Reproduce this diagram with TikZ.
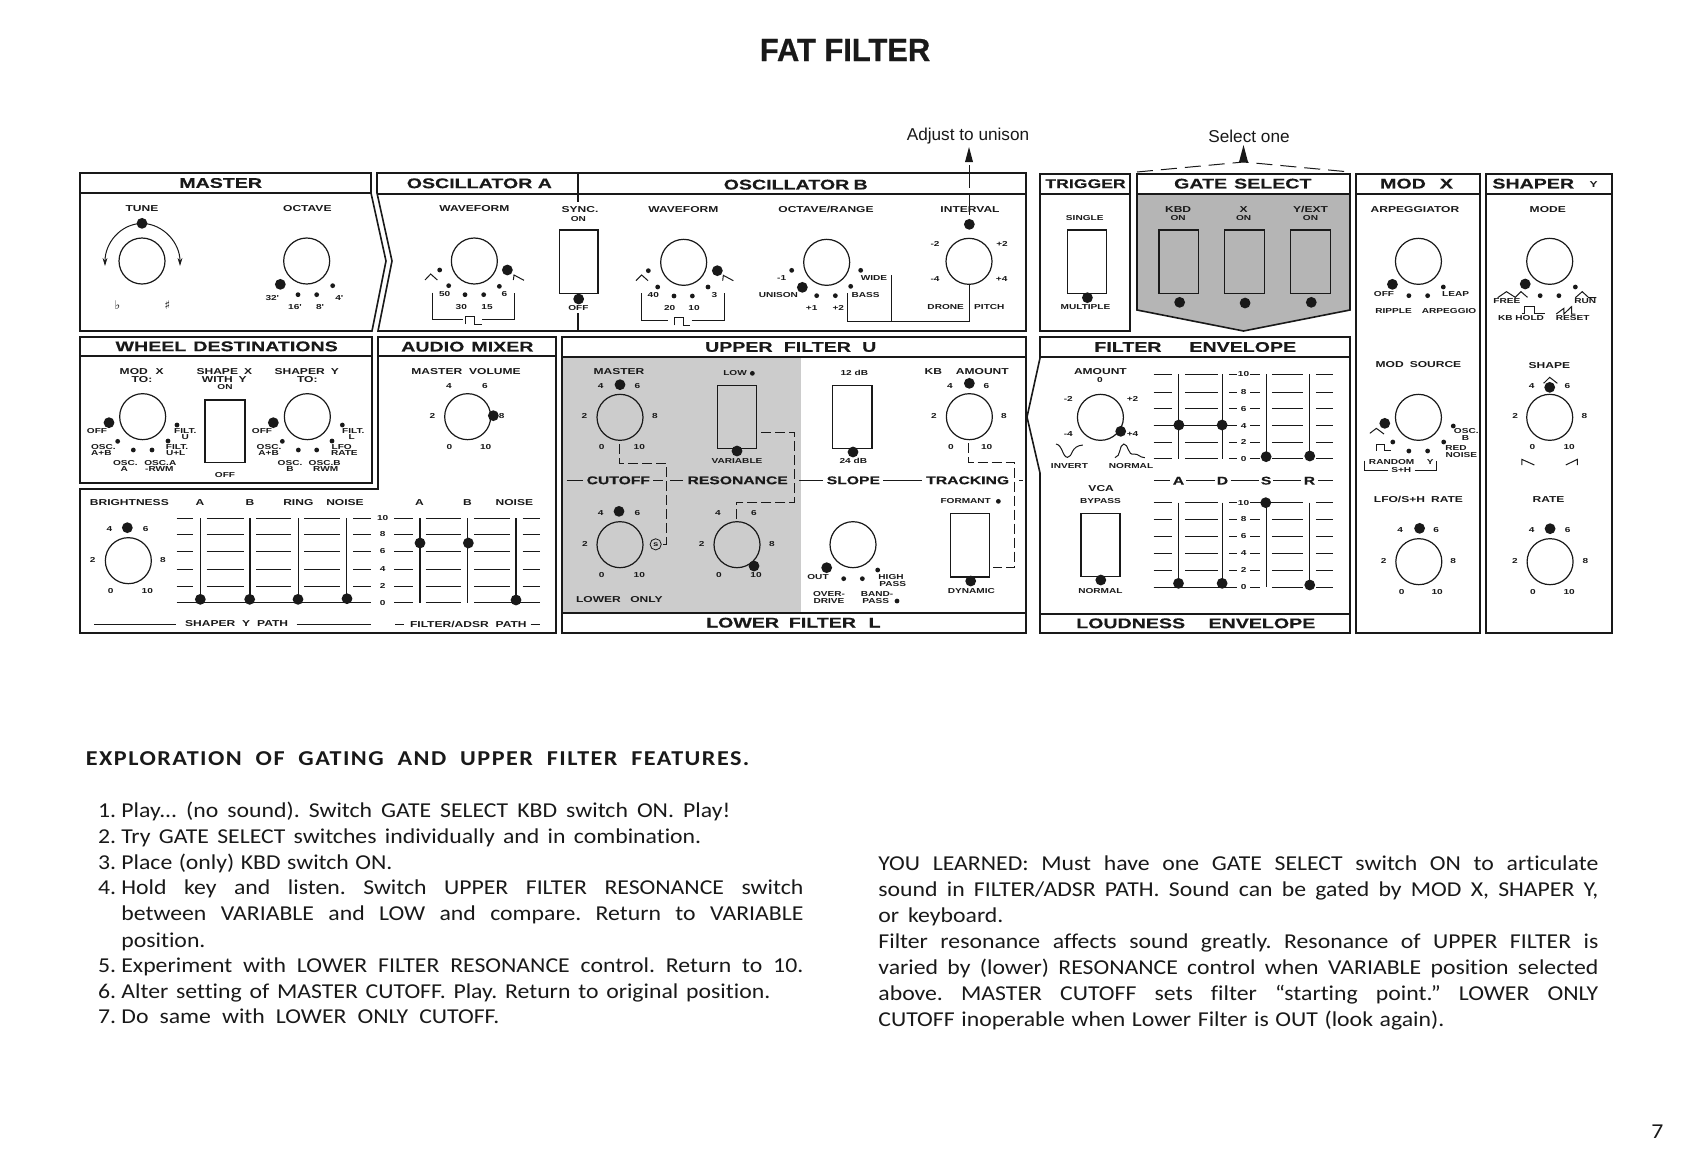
\documentclass[tikz,border=0pt]{standalone}
\usepackage{fontspec}
\usetikzlibrary{arrows.meta}
\setmainfont{Liberation Sans}
\newfontfamily\ext[FakeStretch=1.4,UprightFont=* Bold]{Liberation Sans}
\newfontfamily\exth[FakeStretch=1.4,FakeBold=0.3,UprightFont=* Bold]{Liberation Sans}
\newfontfamily\bodyf[FakeStretch=1.12,Ligatures=NoCommon]{Carlito}
\newfontfamily\bodyb[FakeStretch=1.14,LetterSpace=7,UprightFont=* Bold]{Carlito}
\newfontfamily\titlef[FakeBold=0.7,UprightFont=* Bold]{Liberation Sans}
\newfontfamily\symf{DejaVu Sans}
\definecolor{ink}{gray}{0.1}
\definecolor{shadeA}{gray}{0.80}
\definecolor{shadeB}{gray}{0.71}
\newcounter{nn}
\newlength\mylen
\frenchspacing
\tikzset{
  panel/.style={draw=ink,line width=0.8pt},
  rule/.style={draw=ink,line width=0.7pt},
  thinl/.style={draw=ink,line width=0.5pt},
  dashl/.style={draw=ink,line width=0.5pt,dash pattern=on 5pt off 2pt},
  knob/.style={circle,draw=ink,line width=0.6pt,minimum size=23pt,inner sep=0pt,outer sep=0pt},
  bigdot/.style={circle,fill=ink,minimum size=5.4pt,inner sep=0pt,outer sep=0pt},
  smalldot/.style={circle,fill=ink,minimum size=2.4pt,inner sep=0pt,outer sep=0pt},
  hdrt/.style={inner sep=0pt,text=ink,font=\exth\fontsize{7pt}{8pt}\selectfont},
  midt/.style={inner sep=0pt,text=ink,font=\exth\fontsize{5.6pt}{6pt}\selectfont},
  labt/.style={inner sep=0pt,text=ink,font=\ext\fontsize{4.3pt}{5pt}\selectfont},
  tint/.style={inner sep=0pt,text=ink,font=\ext\fontsize{3.6pt}{4pt}\selectfont},
  bodyt/.style={inner sep=0pt,anchor=base west,text=ink,font=\bodyf\fontsize{10.6pt}{12pt}\selectfont},
  zw/.style={x=0.166667pt,y=-0.166667pt},
  zn/.style={x=0.191350pt,y=-0.166667pt},
}
\newcommand\hd[3]{\stepcounter{nn}\node[hdrt] (n\arabic{nn}) at (#1,#2) {#3};}
\newcommand\md[3]{\stepcounter{nn}\node[midt] (n\arabic{nn}) at (#1,#2) {#3};}
\newcommand\lb[3]{\stepcounter{nn}\node[labt] (n\arabic{nn}) at (#1,#2) {#3};}
\newcommand\tn[3]{\stepcounter{nn}\node[tint] (n\arabic{nn}) at (#1,#2) {#3};}
\newcommand\kn[2]{\stepcounter{nn}\node[knob] (n\arabic{nn}) at (#1,#2) {};}
\newcommand\bd[2]{\stepcounter{nn}\node[bigdot] (n\arabic{nn}) at (#1,#2) {};}
\newcommand\sd[2]{\stepcounter{nn}\node[smalldot] (n\arabic{nn}) at (#1,#2) {};}
\newcommand\sw[4]{\draw[rule] (#1,#2) rectangle (#3,#4);}
\newcommand\bl[4]{\pgfmathsetlength\mylen{(#3-#1)*0.5}\stepcounter{nn}\node[bodyt] (n\arabic{nn}) at (#1,#2) {\hbox to \mylen{\spaceskip=.14em plus 1fil\relax #4}};}
\begin{document}
\begin{tikzpicture}[x=0.5pt,y=-0.5pt]
\useasboundingbox (0,0) rectangle (1684,1167);
\fill[white] (0,0) rectangle (1684,1167);
% title and notes
\node[inner sep=0pt,text=ink,font=\titlef\fontsize{16pt}{18pt}\selectfont,xscale=.965] (title) at (845,50) {FAT FILTER};
\node[inner sep=0pt,text=ink,font=\fontsize{8.6pt}{10pt}\selectfont] (adj) at (968,136) {Adjust to unison};
\node[inner sep=0pt,text=ink,font=\fontsize{8.6pt}{10pt}\selectfont] (sel) at (1249,136) {Select one};
% shaded regions
\fill[shadeA] (562,357) rectangle (801,613);
\fill[shadeB] (1137,174) -- (1350,174) -- (1350,310) -- (1243.5,331) -- (1137,310) -- cycle;
\fill[white] (1137,174) rectangle (1350,194);
% panels
\draw[panel] (80,173) -- (371,173) -- (371,193) -- (386,261) -- (372,331) -- (80,331) -- cycle;
\draw[rule] (80,193) -- (371,193);
\draw[panel] (377,173) -- (1026,173) -- (1026,331) -- (378,331) -- (392,261) -- (377,193) -- cycle;
\draw[rule] (377,194) -- (1026,194);
\draw[rule] (578,174) -- (578,202) (578,313) -- (578,331);
\draw[panel] (80,337) rectangle (372,483);
\draw[rule] (80,356) -- (372,356);
\draw[panel] (378,337) -- (556,337) -- (556,633) -- (80,633) -- (80,489) -- (378,489) -- cycle;
\draw[rule] (378,356) -- (556,356);
\draw[panel] (562,337) rectangle (1026,633);
\draw[rule] (562,357) -- (1026,357) (562,613) -- (1026,613);
\draw[panel] (1040,174) rectangle (1130,331);
\draw[rule] (1040,194) -- (1130,194);
\draw[panel] (1137,174) -- (1350,174) -- (1350,310) -- (1243.5,331) -- (1137,310) -- cycle;
\draw[rule] (1137,194) -- (1350,194);
\draw[panel] (1040,337) -- (1350,337) -- (1350,633) -- (1040,633) -- (1040,473) -- (1027,417) -- (1040,358) -- cycle;
\draw[rule] (1040,357) -- (1350,357) (1040,614) -- (1350,614);
\draw[panel] (1356,174) rectangle (1480,633);
\draw[rule] (1356,194) -- (1480,194);
\draw[panel] (1486,174) rectangle (1612,633);
\draw[rule] (1486,194) -- (1612,194);
% select-one bracket and arrows
\draw[thinl,dash pattern=on 8pt off 4pt] (1137,172) -- (1243.5,162) -- (1350,172);
\fill[ink] (1243.5,145) -- (1248,162) -- (1239,162) -- cycle;
\fill[ink] (969,147) -- (973,162) -- (965,162) -- cycle;
\draw[thinl] (969,165) -- (969,188) (969,193) -- (969,215);

%%%% Z1
\begin{scope}[shift={(70,120)},zw]
\hd{452}{189}{MASTER}
\hd{1228}{190}{OSCILLATOR A}
\lb{216}{265}{TUNE}
\lb{712}{266}{OCTAVE}
\lb{1213}{266}{WAVEFORM}
\kn{216}{423}\kn{710}{423}\kn{1213}{423}
\bd{216}{310}
\draw[thinl,-{Stealth[length=4pt,width=2.4pt]}] (216,310) .. controls (150,312) and (105,370) .. (105,438);
\draw[thinl,-{Stealth[length=4pt,width=2.4pt]}] (216,310) .. controls (282,312) and (330,370) .. (330,438);
\stepcounter{nn}\node[inner sep=0pt,text=ink,font=\symf\fontsize{6pt}{7pt}\selectfont] (n\arabic{nn}) at (142,555) {♭};
\stepcounter{nn}\node[inner sep=0pt,text=ink,font=\symf\fontsize{6pt}{7pt}\selectfont] (n\arabic{nn}) at (292,555) {♯};
\bd{631}{493}\sd{684}{524}\sd{740}{524}\sd{788}{497}
\tn{607}{533}{32'}\tn{675}{560}{16'}\tn{750}{560}{8'}\tn{808}{533}{4'}
\bd{1312}{450}\sd{1109}{450}\sd{1136}{497}\sd{1185}{524}\sd{1241}{524}\sd{1288}{499}
\draw[thinl] (1065,480) -- (1082,462) -- (1102,480);
\draw[thinl] (1330,480) -- (1332,465) -- (1362,481);
\tn{1124}{523}{50}\tn{1174}{561}{30}\tn{1251}{561}{15}\tn{1303}{523}{6}
\draw[thinl] (1088,518) -- (1088,598) -- (1180,598) (1236,598) -- (1333,598) -- (1333,518);
\draw[thinl] (1186,612) -- (1186,590) -- (1212,590) -- (1212,612) -- (1235,612);
\end{scope}

%%%% Z2
\begin{scope}[shift={(540,120)},zw]
\hd{767}{194}{OSCILLATOR\hspace{.3em}B}
\lb{120}{268}{SYNC.}\tn{115}{296}{ON}\tn{115}{563}{OFF}
\lb{430}{268}{WAVEFORM}\lb{858}{268}{OCTAVE/RANGE}\lb{1290}{268}{INTERVAL}
\sw{58}{330}{174}{520}
\bd{116}{537}
\kn{431}{427}\kn{860}{427}\kn{1287}{424}
\bd{532}{452}\sd{325}{452}\sd{353}{501}\sd{402}{528}\sd{457}{528}\sd{504}{501}
\draw[thinl] (288,482) -- (305,465) -- (324,482);
\draw[thinl] (548,482) -- (550,466) -- (580,482);
\tn{340}{525}{40}\tn{389}{563}{20}\tn{462}{563}{10}\tn{523}{525}{3}
\draw[thinl] (303,520) -- (303,601) -- (385,601) (455,601) -- (553,601) -- (553,520);
\draw[thinl] (403,616) -- (403,592) -- (430,592) -- (430,616) -- (450,616);
\bd{787}{502}\sd{755}{451}\sd{830}{527}\sd{886}{527}\sd{932}{499}\sd{962}{451}
\tn{725}{475}{-1}\tn{715}{525}{UNISON}\tn{815}{564}{+1}\tn{895}{564}{+2}\tn{1002}{474}{WIDE}\tn{977}{524}{BASS}
\bd{1288}{313}
\tn{1185}{372}{-2}\tn{1386}{372}{+2}\tn{1185}{477}{-4}\tn{1385}{477}{+4}\tn{1217}{562}{DRONE}\tn{1348}{562}{PITCH}
\draw[thinl] (1287,495) -- (1287,603) -- (922,603) -- (922,520) (1054,465) -- (1054,603);
\end{scope}

%%%% Z3
\begin{scope}[shift={(1030,120)},zn]
\stepcounter{nn}\node[hdrt,font=\exth\fontsize{6.3pt}{7pt}\selectfont] (n\arabic{nn}) at (145,191) {TRIGGER};
\hd{556}{191}{GATE\hspace{.5em}SELECT}
\lb{387}{268}{KBD}\tn{387}{294}{ON}\lb{558}{268}{X}\tn{558}{294}{ON}\lb{733}{268}{Y/EXT}\tn{733}{294}{ON}
\tn{143}{295}{SINGLE}\tn{145}{562}{MULTIPLE}
\sw{98}{330}{200}{520}\bd{150}{533}
\sw{337}{330}{440}{520}\sw{508}{330}{612}{520}\sw{680}{330}{785}{520}
\bd{391}{547}\bd{562}{549}\bd{735}{547}
\hd{1010}{191}{MOD\hspace{1em}X}
\lb{1006}{268}{ARPEGGIATOR}
\kn{1015}{424}\kn{1358}{424}
\bd{947}{493}\sd{990}{527}\sd{1039}{527}\sd{1080}{501}
\tn{925}{523}{OFF}\tn{1112}{523}{LEAP}\tn{950}{573}{RIPPLE}\tn{1095}{573}{ARPEGGIO}
\hd{1315}{191}{SHAPER}\lb{1473}{193}{Y}
\lb{1353}{268}{MODE}
\bd{1294}{492}\sd{1333}{527}\sd{1382}{527}\sd{1425}{501}
\tn{1246}{543}{FREE}\tn{1451}{543}{RUN}\tn{1283}{595}{KB HOLD}\tn{1418}{595}{RESET}
\draw[thinl] (1222,533) -- (1245,515) -- (1268,532) -- (1283,515) -- (1300,532);
\draw[thinl] (1425,533) -- (1443,515) -- (1460,533) -- (1480,533);
\draw[thinl] (1285,581) -- (1292,581) -- (1292,560) -- (1318,560) -- (1318,581) -- (1345,581);
\draw[thinl] (1375,582) -- (1395,565) -- (1395,582) -- (1415,560) -- (1415,582) -- (1425,582);
\end{scope}

%%%% Z4
\begin{scope}[shift={(70,330)},zw]
\hd{470}{49}{WHEEL\hspace{.5em}DESTINATIONS}\hd{1192}{50}{AUDIO\hspace{.5em}MIXER}
\lb{215}{124}{MOD\hspace{.9em}X}\lb{216}{150}{TO:}
\lb{463}{124}{SHAPE\hspace{.7em}X}\lb{463}{150}{WITH\hspace{.7em}Y}\tn{465}{172}{ON}\tn{465}{436}{OFF}
\lb{710}{124}{SHAPER\hspace{.7em}Y}\lb{712}{150}{TO:}
\kn{218}{260}\bd{117}{278}\sd{143}{334}\sd{190}{360}\sd{246}{360}\sd{294}{333}\sd{321}{285}
\tn{81}{304}{OFF}\tn{346}{304}{FILT.}\tn{346}{322}{U}\tn{100}{352}{OSC.}\tn{94}{370}{A+B}\tn{321}{352}{FILT.}\tn{317}{370}{U+L}
\tn{166}{399}{OSC.}\tn{163}{417}{A}\tn{271}{399}{OSC.A}\tn{268}{417}{-RWM}
\kn{712}{260}\bd{610}{278}\sd{637}{334}\sd{685}{360}\sd{740}{360}\sd{786}{333}\sd{817}{285}
\tn{576}{304}{OFF}\tn{850}{304}{FILT.}\tn{845}{322}{L}\tn{597}{352}{OSC.}\tn{596}{370}{A+B}\tn{815}{352}{LFO}\tn{823}{370}{RATE}
\tn{660}{399}{OSC.}\tn{660}{417}{B}\tn{764}{399}{OSC.B}\tn{767}{417}{RWM}
\sw{405}{210}{525}{397}
\lb{1188}{124}{MASTER\hspace{.8em}VOLUME}
\kn{1193}{260}\bd{1270}{257}
\tn{1137}{167}{4}\tn{1245}{167}{6}\tn{1087}{257}{2}\tn{1295}{257}{8}\tn{1138}{350}{0}\tn{1247}{350}{10}
\lb{178}{518}{BRIGHTNESS}\lb{390}{518}{A}\lb{540}{518}{B}\lb{685}{518}{RING}\lb{825}{518}{NOISE}\lb{1048}{518}{A}\lb{1192}{518}{B}\lb{1333}{518}{NOISE}
\kn{175}{692}\bd{172}{593}
\tn{118}{598}{4}\tn{227}{598}{6}\tn{68}{689}{2}\tn{279}{689}{8}\tn{122}{783}{0}\tn{232}{783}{10}
\tn{938}{565}{10}\tn{938}{613}{8}\tn{938}{664}{6}\tn{938}{718}{4}\tn{938}{768}{2}\tn{938}{818}{0}
\foreach \yy in {565,613,664,718,768}{\foreach \xa/\xb in {320/370,410/522,558/662,702/810,850/903,972/1030,1067/1172,1213/1320,1358/1410}{\draw[thinl] (\xa,\yy) -- (\xb,\yy);}}
\draw[thinl] (320,818) -- (903,818) (972,818) -- (1030,818) (1067,818) -- (1172,818) (1213,818) -- (1410,818);
\foreach \xx in {392,540,685,830,1050,1193,1338}{\draw[rule,line width=.6pt] (\xx,565) -- (\xx,818);}
\bd{391}{808}\bd{539}{808}\bd{684}{808}\bd{831}{806}\bd{1050}{639}\bd{1195}{639}\bd{1338}{810}
\draw[thinl] (73,882) -- (318,882) (680,882) -- (903,882) (975,882) -- (1003,882) (1382,882) -- (1410,882);
\lb{500}{882}{SHAPER\hspace{.8em}Y\hspace{.8em}PATH}\lb{1195}{882}{FILTER/ADSR\hspace{.8em}PATH}
\end{scope}

%%%% Z5
\begin{scope}[shift={(555,330)},zw]
\hd{707}{51}{UPPER\hspace{.8em}FILTER\hspace{.8em}U}\hd{715}{878}{LOWER\hspace{.7em}FILTER\hspace{.9em}L}
\lb{192}{125}{MASTER}\kn{195}{262}\bd{195}{164}
\tn{137}{167}{4}\tn{247}{167}{6}\tn{88}{259}{2}\tn{300}{259}{8}\tn{140}{351}{0}\tn{253}{351}{10}
\draw[dashl] (193,342) -- (193,400) -- (333,400) -- (333,643) -- (318,643);
\md{190}{451}{CUTOFF}\md{548}{451}{RESONANCE}\md{895}{451}{SLOPE}\md{1238}{451}{TRACKING}
\draw[thinl] (35,451) -- (85,451) (295,451) -- (325,451) (345,451) -- (385,451) (732,451) -- (805,451) (985,451) -- (1100,451) (1392,451) -- (1405,451);
\tn{540}{130}{LOW}\sd{592}{130}
\sw{487}{166}{604}{355}\bd{546}{363}\tn{546}{393}{VARIABLE}
\draw[dashl] (618,307) -- (718,307) -- (718,516) -- (544,516) -- (544,575);
\kn{195}{644}\bd{192}{544}
\tn{137}{550}{4}\tn{247}{550}{6}\tn{90}{641}{2}\tn{140}{734}{0}\tn{253}{734}{10}
\stepcounter{nn}\node[circle,draw=ink,line width=.4pt,minimum size=5.6pt,inner sep=0pt,font=\ext\fontsize{2.6pt}{3pt}\selectfont] (n\arabic{nn}) at (302,643) {S};
\lb{193}{810}{LOWER\hspace{1.1em}ONLY}
\kn{546}{644}\bd{597}{708}
\tn{489}{550}{4}\tn{597}{550}{6}\tn{440}{641}{2}\tn{651}{641}{8}\tn{492}{734}{0}\tn{603}{734}{10}
\tn{898}{129}{12 dB}\sw{833}{166}{951}{355}\bd{894}{366}\tn{895}{393}{24 dB}
\kn{894}{644}\bd{815}{713}\sd{866}{746}\sd{922}{746}\sd{968}{720}
\tn{789}{742}{OUT}\tn{1008}{742}{HIGH}\tn{1013}{762}{PASS}\tn{822}{792}{OVER-}\tn{822}{813}{DRIVE}\tn{966}{792}{BAND-}\tn{962}{813}{PASS}\sd{1026}{813}
\lb{1135}{125}{KB}\lb{1282}{125}{AMOUNT}
\kn{1243}{260}\bd{1243}{160}
\tn{1185}{167}{4}\tn{1294}{167}{6}\tn{1137}{259}{2}\tn{1347}{259}{8}\tn{1188}{351}{0}\tn{1295}{351}{10}
\draw[dashl] (1241,340) -- (1241,397) -- (1378,397) -- (1378,712) -- (1315,712);
\tn{1232}{513}{FORMANT}\sd{1330}{514}
\sw{1187}{550}{1303}{741}\bd{1247}{753}\tn{1249}{782}{DYNAMIC}
\end{scope}

%%%% Z6
\begin{scope}[shift={(1030,330)},zn]
\hd{256}{51}{FILTER}\hd{556}{51}{ENVELOPE}\hd{263}{880}{LOUDNESS}\hd{606}{880}{ENVELOPE}
\lb{184}{126}{AMOUNT}\tn{183}{151}{0}\tn{100}{206}{-2}\tn{268}{207}{+2}\tn{100}{313}{-4}\tn{268}{313}{+4}
\kn{184}{262}\bd{237}{304}
\draw[thinl] (68,342) .. controls (85,345) and (85,382) .. (98,382) .. controls (112,382) and (105,348) .. (138,345);
\draw[thinl] (222,383) .. controls (238,380) and (232,345) .. (245,342) .. controls (258,342) and (255,378) .. (272,372) .. controls (285,372) and (285,382) .. (300,383);
\tn{103}{407}{INVERT}\tn{264}{407}{NORMAL}
\lb{186}{475}{VCA}\tn{184}{514}{BYPASS}
\sw{133}{550}{235}{740}\bd{185}{750}\tn{184}{782}{NORMAL}
\tn{558}{132}{10}\tn{558}{186}{8}\tn{558}{236}{6}\tn{558}{287}{4}\tn{558}{337}{2}\tn{558}{386}{0}
\tn{558}{518}{10}\tn{558}{568}{8}\tn{558}{618}{6}\tn{558}{669}{4}\tn{558}{721}{2}\tn{558}{772}{0}
\foreach \yy in {132,186,236,287,337,386,518,568,618,669,721,772}{\foreach \xa/\xb in {323/372,405/490,520/540,575/600,632/714,747/792}{\draw[thinl] (\xa,\yy) -- (\xb,\yy);}}
\draw[thinl] (323,287) -- (540,287) (323,772) -- (540,772) (575,518) -- (714,518);
\foreach \xx in {388,503,617,730}{\draw[rule,line width=.6pt] (\xx,132) -- (\xx,386) (\xx,518) -- (\xx,772);}
\bd{389}{285}\bd{502}{285}\bd{617}{380}\bd{731}{378}
\bd{388}{760}\bd{502}{760}\bd{616}{518}\bd{731}{765}
\md{388}{452}{A}\md{503}{452}{D}\md{617}{452}{S}\md{730}{452}{R}
\draw[thinl] (325,452) -- (367,452) (408,452) -- (483,452) (525,452) -- (598,452) (635,452) -- (708,452) (752,452) -- (792,452);
\lb{1015}{105}{MOD\hspace{.7em}SOURCE}
\kn{1015}{262}\bd{927}{280}\sd{948}{336}\sd{990}{363}\sd{1039}{363}\sd{1081}{336}\sd{1106}{288}
\tn{1140}{304}{OSC.}\tn{1138}{323}{B}\tn{1113}{355}{RED}\tn{1127}{375}{NOISE}\tn{945}{397}{RANDOM}\tn{1046}{397}{Y}\tn{970}{420}{S+H}
\draw[thinl] (873,392) -- (873,420) -- (935,420) (1005,420) -- (1063,420) -- (1063,392);
\draw[thinl] (888,310) -- (905,295) -- (925,312);
\draw[thinl] (905,362) -- (905,342) -- (925,342) -- (925,362) -- (942,362);
\lb{1015}{509}{LFO/S+H\hspace{.7em}RATE}
\kn{1016}{695}\bd{1018}{595}
\tn{967}{600}{4}\tn{1061}{600}{6}\tn{924}{692}{2}\tn{1106}{692}{8}\tn{971}{785}{0}\tn{1064}{785}{10}
\lb{1357}{107}{SHAPE}
\kn{1358}{262}\bd{1358}{172}
\draw[thinl] (1342,160) -- (1358,142) -- (1378,160);
\tn{1311}{167}{4}\tn{1404}{167}{6}\tn{1268}{259}{2}\tn{1449}{259}{8}\tn{1313}{351}{0}\tn{1409}{351}{10}
\draw[thinl] (1285,405) -- (1285,388) -- (1318,405);
\draw[thinl] (1400,405) -- (1430,388) -- (1430,405);
\lb{1355}{509}{RATE}
\kn{1359}{695}\bd{1359}{596}
\tn{1311}{600}{4}\tn{1405}{600}{6}\tn{1267}{692}{2}\tn{1451}{692}{8}\tn{1314}{785}{0}\tn{1409}{785}{10}
\end{scope}

%%%% body text
\pgfmathsetlength\mylen{(749-85.5)*0.5}
\node[bodyt,font=\bodyb\fontsize{10.6pt}{12pt}\selectfont] (head) at (85.5,765) {\hbox to \mylen{\spaceskip=.14em plus 1fil\relax EXPLORATION OF GATING AND UPPER FILTER FEATURES.}};
\foreach \nnum/\yy in {1./817.5,2./843,3./869,4./894,5./972,6./998,7./1023}{\stepcounter{nn}\node[bodyt] (n\arabic{nn}) at (97.6,\yy) {\nnum};}
\bl{121}{817.5}{730}{Play... (no sound). Switch GATE SELECT KBD switch ON. Play!}
\bl{121}{843}{701}{Try GATE SELECT switches individually and in combination.}
\bl{121}{869}{392}{Place (only) KBD switch ON.}
\bl{121}{894}{803}{Hold key and listen. Switch UPPER FILTER RESONANCE switch}
\bl{121}{920}{803}{between VARIABLE and LOW and compare. Return to VARIABLE}
\bl{121}{947}{203}{position.}
\bl{121}{972}{803}{Experiment with LOWER FILTER RESONANCE control. Return to 10.}
\bl{121}{998}{770}{Alter setting of MASTER CUTOFF. Play. Return to original position.}
\bl{121}{1023}{499}{Do same with LOWER ONLY CUTOFF.}
\bl{878}{870}{1598}{YOU LEARNED: Must have one GATE SELECT switch ON to articulate}
\bl{878}{896}{1598}{sound in FILTER/ADSR PATH. Sound can be gated by MOD X, SHAPER Y,}
\bl{878}{922}{1003}{or keyboard.}
\bl{878}{948}{1598}{Filter resonance affects sound greatly. Resonance of UPPER FILTER is}
\bl{878}{974}{1598}{varied by (lower) RESONANCE control when VARIABLE position selected}
\bl{878}{1000}{1598}{above. MASTER CUTOFF sets filter “starting point.” LOWER ONLY}
\bl{878}{1026}{1444}{CUTOFF inoperable when Lower Filter is OUT (look again).}
\node[bodyt] (pageno) at (1651,1138) {7};
\end{tikzpicture}
\end{document}
